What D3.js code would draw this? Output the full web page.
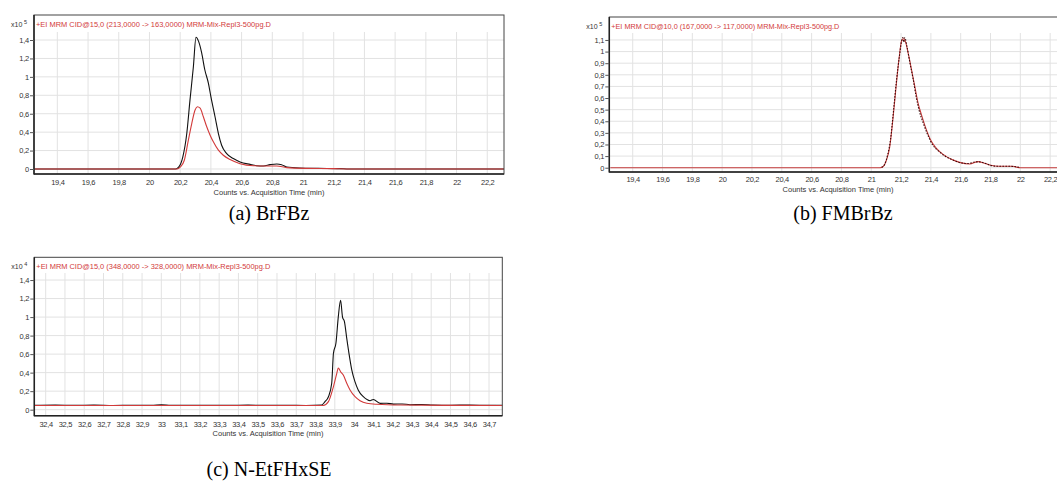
<!DOCTYPE html>
<html><head><meta charset="utf-8">
<script src="https://cdn.jsdelivr.net/npm/d3@7"></script>
<style>
body{margin:0;background:#fff;}
svg{display:block;}
</style></head>
<body>
<svg id="c" width="1057" height="488"></svg>
<script>
// ---------- DATA ----------
const aXTicks = [19.4,19.6,19.8,20,20.2,20.4,20.6,20.8,21,21.2,21.4,21.6,21.8,22,22.2];
const aYTicks = [0,0.2,0.4,0.6,0.8,1,1.2,1.4];
const aBlackT = [19.25,20.17,20.19,20.217,20.243,20.264,20.286,20.303,20.32,20.34,20.36,20.384,20.40,20.427,20.449,20.47,20.503,20.546,20.59,20.655,20.698,20.742,20.785,20.829,20.86,20.894,20.98,21.10,21.24,21.30,22.31];
const aBlackV = [0,0,0.02,0.13,0.385,0.75,1.11,1.43,1.385,1.26,1.08,0.93,0.785,0.567,0.385,0.258,0.167,0.113,0.076,0.05,0.036,0.033,0.047,0.055,0.047,0.022,0.011,0.007,0.004,0,0];
const aRedT = [19.25,20.18,20.2,20.227,20.253,20.275,20.297,20.312,20.33,20.351,20.373,20.395,20.416,20.449,20.481,20.525,20.59,20.677,20.764,20.829,20.894,21.02,21.2,21.3,22.31];
const aRedV = [0,0,0.02,0.095,0.31,0.49,0.64,0.676,0.66,0.567,0.458,0.367,0.295,0.204,0.149,0.102,0.058,0.036,0.033,0.033,0.015,0.007,0.004,0,0];

const bXTicks = [19.4,19.6,19.8,20,20.2,20.4,20.6,20.8,21,21.2,21.4,21.6,21.8,22,22.2];
const bYTicks = [0,0.1,0.2,0.3,0.4,0.5,0.6,0.7,0.8,0.9,1,1.1];
const bRedT = [19.25,21.06,21.08,21.102,21.124,21.147,21.169,21.187,21.203,21.214,21.232,21.247,21.27,21.292,21.314,21.337,21.37,21.404,21.437,21.482,21.538,21.593,21.66,21.716,21.75,21.794,21.86,21.95,21.98,22.0,22.31];
const bRedV = [0,0,0.01,0.066,0.18,0.44,0.73,0.945,1.09,1.11,1.075,0.99,0.845,0.70,0.556,0.455,0.326,0.225,0.167,0.115,0.072,0.046,0.032,0.052,0.043,0.023,0.012,0.012,0.003,0,0];
const bBlackT = [21.07,21.09,21.11,21.13,21.15,21.17,21.19,21.205,21.212,21.218,21.225,21.24,21.26,21.28,21.30,21.32,21.35,21.38,21.41,21.45,21.50,21.55,21.60,21.65,21.70,21.73,21.76,21.80,21.85,21.90,21.96,22.0];
const bBlackV = [0.003,0.03,0.11,0.25,0.5,0.76,0.97,1.1,1.12,1.08,1.12,1.04,0.9,0.77,0.62,0.5,0.38,0.28,0.2,0.145,0.095,0.065,0.042,0.036,0.05,0.05,0.04,0.02,0.012,0.013,0.01,0.002];

const cXTicks = [32.4,32.5,32.6,32.7,32.8,32.9,33,33.1,33.2,33.3,33.4,33.5,33.6,33.7,33.8,33.9,34,34.1,34.2,34.3,34.4,34.5,34.6,34.7];
const cYTicks = [0,0.2,0.4,0.6,0.8,1,1.2,1.4];
const cBlackT = [32.34,32.45,32.55,32.65,32.75,32.85,32.95,33.0,33.05,33.15,33.25,33.35,33.45,33.55,33.65,33.75,33.832,33.849,33.867,33.884,33.893,33.906,33.918,33.93,33.94,33.95,33.962,33.976,33.988,34.005,34.022,34.048,34.083,34.10,34.135,34.17,34.204,34.25,34.29,34.35,34.41,34.5,34.6,34.7,34.77];
const cBlackV = [0.047,0.05,0.046,0.049,0.045,0.048,0.047,0.052,0.046,0.048,0.047,0.046,0.049,0.047,0.048,0.045,0.05,0.087,0.14,0.285,0.61,0.72,1.0,1.18,1.0,0.95,0.77,0.575,0.43,0.30,0.21,0.14,0.097,0.11,0.068,0.07,0.06,0.062,0.054,0.056,0.05,0.048,0.05,0.046,0.047];
const cRedT = [32.34,33.84,33.867,33.893,33.91,33.918,33.93,33.944,33.962,33.979,34.005,34.031,34.066,34.118,34.24,34.77];
const cRedV = [0.045,0.045,0.087,0.25,0.39,0.45,0.41,0.375,0.285,0.213,0.14,0.097,0.069,0.058,0.05,0.045];

const titles = [
  "+EI MRM CID@15,0 (213,0000 -> 163,0000) MRM-Mix-Repl3-500pg.D",
  "+EI MRM CID@10,0 (167,0000 -> 117,0000) MRM-Mix-Repl3-500pg.D",
  "+EI MRM CID@15,0 (348,0000 -> 328,0000) MRM-Mix-Repl3-500pg.D"
];
const exponents = ["5","5","4"];
const captions = ["(a) BrFBz","(b) FMBrBz","(c) N-EtFHxSE"];
const axisTitle = "Counts vs. Acquisition Time (min)";

// ---------- LAYOUT ----------
const panels = [
  {l:34, t:15, r:504, b:174, pt:32, xd:[19.248,22.309], yd:[-0.0543,1.487], xt:aXTicks, yt:aYTicks,
   series:[{t:aBlackT,v:aBlackV,c:"#111"},{t:aRedT,v:aRedV,c:"#d23a3a"}],
   title:titles[0], tw:235, exp:exponents[0], cap:captions[0], capX:269, capY:220, atX:269, atY:195, tlY:185},
  {l:609.3, t:17, r:1067, b:172, pt:33, xd:[19.243,22.313], yd:[-0.037,1.16], xt:bXTicks, yt:bYTicks,
   series:[{t:bRedT,v:bRedV,c:"#c43a3a"},{t:bBlackT,v:bBlackV,c:"#3a0a0a",dash:"1.5,1.5"}],
   title:titles[1], tw:228, exp:exponents[1], cap:captions[1], capX:843, capY:220, atX:838, atY:192, tlY:182},
  {l:34.3, t:257.3, r:502.3, b:415.7, pt:273, xd:[32.341,34.769], yd:[-0.065,1.476], xt:cXTicks, yt:cYTicks,
   series:[{t:cBlackT,v:cBlackV,c:"#111"},{t:cRedT,v:cRedV,c:"#d23a3a"}],
   title:titles[2], tw:234, exp:exponents[2], cap:captions[2], capX:269, capY:476, atX:268, atY:436, tlY:427}
];

const svg = d3.select("#c");
const fmt = d => String(d).replace(".", ",");

panels.forEach(p => {
  const g = svg.append("g");
  const x = d3.scaleLinear().domain(p.xd).range([p.l, p.r]);
  const y = d3.scaleLinear().domain(p.yd).range([p.b, p.pt]);
  // gridlines
  g.append("g").selectAll("line.v").data(p.xt).join("line")
    .attr("x1", d=>x(d)).attr("x2", d=>x(d)).attr("y1", p.pt).attr("y2", p.b)
    .attr("stroke", "#e2e2e2").attr("stroke-width", 1);
  g.append("g").selectAll("line.h").data(p.yt).join("line")
    .attr("x1", p.l).attr("x2", p.r).attr("y1", d=>y(d)).attr("y2", d=>y(d))
    .attr("stroke", "#e2e2e2").attr("stroke-width", 1);
  // series
  const clipId = "clip" + Math.round(p.t);
  g.append("clipPath").attr("id", clipId).append("rect")
    .attr("x", p.l).attr("y", p.t).attr("width", p.r - p.l).attr("height", p.b - p.t);
  p.series.forEach(s => {
    const pts = s.t.map((t,i) => [t, s.v[i]]);
    const line = d3.line().x(d=>x(d[0])).y(d=>y(d[1])).curve(d3.curveMonotoneX);
    g.append("path").attr("d", line(pts)).attr("fill","none")
      .attr("stroke", s.c).attr("stroke-width", 1.1)
      .attr("stroke-dasharray", s.dash || null)
      .attr("clip-path", `url(#${clipId})`);
  });
  // frame
  g.append("rect").attr("x", p.l).attr("y", p.t).attr("width", p.r - p.l).attr("height", p.b - p.t)
    .attr("fill","none").attr("stroke","#444").attr("stroke-width",1);
  g.append("line").attr("x1", p.l).attr("x2", p.l).attr("y1", p.t).attr("y2", p.b+0.5)
    .attr("stroke","#222").attr("stroke-width",1.5);
  g.append("line").attr("x1", p.l).attr("x2", p.r).attr("y1", p.b).attr("y2", p.b)
    .attr("stroke","#222").attr("stroke-width",1.5);
  // y axis ticks & labels
  const yAxis = d3.axisLeft(y).tickValues(p.yt).tickSize(4).tickPadding(1).tickFormat(fmt);
  const ya = g.append("g").attr("transform", `translate(${p.l},0)`).call(yAxis);
  ya.select(".domain").remove();
  ya.selectAll("line").attr("stroke","#555");
  ya.selectAll("text").attr("font-family","Liberation Sans, Arial, sans-serif")
    .attr("font-size","7.5px").attr("fill","#333").attr("letter-spacing","-0.2");
  // x tick labels
  const xAxis = d3.axisBottom(x).tickValues(p.xt).tickSize(0).tickPadding(0).tickFormat(fmt);
  const xa = g.append("g").attr("transform", `translate(0,${p.b})`).call(xAxis);
  xa.select(".domain").remove();
  xa.selectAll("text").attr("dy", null).attr("y", p.tlY - p.b)
    .attr("font-family","Liberation Sans, Arial, sans-serif")
    .attr("font-size","7.5px").attr("fill","#333").attr("letter-spacing","-0.3");
  // axis title
  g.append("text").attr("x", p.atX)
    .attr("y", p.atY).attr("text-anchor","middle")
    .attr("font-family","Liberation Sans, Arial, sans-serif").attr("font-size","7.5px")
    .attr("fill","#333").text(axisTitle);
  // header
  g.append("text").attr("x", p.l + 2).attr("y", p.t + 12).attr("textLength", p.tw)
    .attr("lengthAdjust","spacingAndGlyphs")
    .attr("font-family","Liberation Sans, Arial, sans-serif").attr("font-size","8px")
    .attr("fill","#d23a3a").text(p.title);
  g.append("text").attr("x", p.l - 23).attr("y", p.t + 12)
    .attr("font-family","Liberation Sans, Arial, sans-serif").attr("font-size","7px")
    .attr("fill","#333").text("x10");
  g.append("text").attr("x", p.l - 10).attr("y", p.t + 9)
    .attr("font-family","Liberation Sans, Arial, sans-serif").attr("font-size","5.5px")
    .attr("fill","#333").text(p.exp);
  // caption
  svg.append("text").attr("x", p.capX).attr("y", p.capY).attr("text-anchor","middle")
    .attr("font-family","Liberation Serif, Times New Roman, serif").attr("font-size","20px")
    .attr("fill","#000").text(p.cap);
});
</script>
</body></html>
